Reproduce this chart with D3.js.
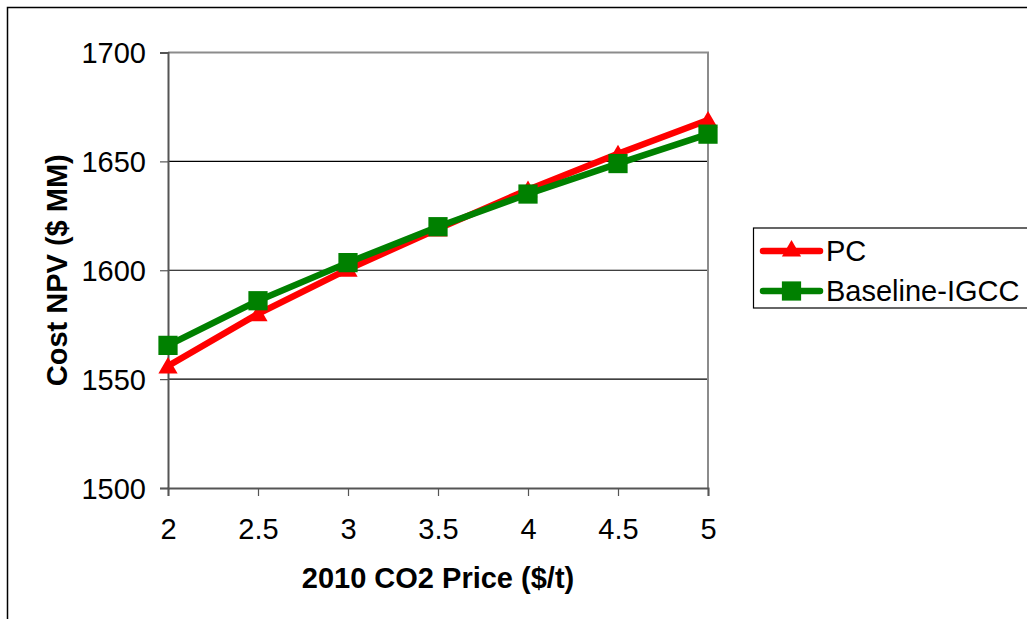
<!DOCTYPE html>
<html>
<head>
<meta charset="utf-8">
<script src="https://cdn.jsdelivr.net/npm/d3@7"></script>
<style>
html,body{margin:0;padding:0;background:#fff;}
svg{display:block;font-family:"Liberation Sans",Arial,sans-serif;}
</style>
</head>
<body>
<svg id="chart" width="1027" height="619"></svg>
<script>
const xValues = [2, 2.5, 3, 3.5, 4, 4.5, 5];
const pcValues = [1556, 1580, 1600.5, 1619, 1637, 1653.5, 1669];
const igccValues = [1565.5, 1586, 1603.5, 1620, 1635, 1649, 1662.5];
const seriesNames = ["PC", "Baseline-IGCC"];
const xTicks = [2, 2.5, 3, 3.5, 4, 4.5, 5];
const yTicks = [1500, 1550, 1600, 1650, 1700];
const xTitle = "2010 CO2 Price ($/t)";
const yTitle = "Cost NPV ($ MM)";

const svg = d3.select("#chart");
const W = 1027, H = 619;
const plot = {left: 168, top: 52.5, right: 708, bottom: 488};
const FS = 29;

// outer frame (extends past right/bottom edges)
svg.append("rect").attr("x", 7.5).attr("y", 7.5).attr("width", W + 10).attr("height", H + 10)
  .attr("fill", "#fff").attr("stroke", "#000").attr("stroke-width", 1.5);

const x = d3.scaleLinear().domain([2, 5]).range([plot.left, plot.right]);
const y = d3.scaleLinear().domain([1500, 1700]).range([plot.bottom, plot.top]);

// gridlines
svg.append("g").selectAll("line").data(yTicks.filter(t => t > 1500 && t < 1700)).join("line")
  .attr("x1", plot.left).attr("x2", plot.right)
  .attr("y1", d => y(d)).attr("y2", d => y(d))
  .attr("stroke", "#000").attr("stroke-width", 1.2);

// plot frame top/right
svg.append("path")
  .attr("d", `M${plot.left},${plot.top}H${plot.right}V${plot.bottom}`)
  .attr("fill", "none").attr("stroke", "#8c8c8c").attr("stroke-width", 2);

// axes
const yAxis = svg.append("g").attr("transform", `translate(${plot.left},0)`)
  .call(d3.axisLeft(y).tickValues(yTicks).tickSize(8).tickPadding(14).tickFormat(d3.format("d")));
const xAxis = svg.append("g").attr("transform", `translate(0,${plot.bottom})`)
  .call(d3.axisBottom(x).tickValues(xTicks).tickSize(8).tickPadding(22).tickFormat(d => String(d)));
[yAxis, xAxis].forEach(g => {
  g.select(".domain").attr("stroke", "#555").attr("stroke-width", 2);
  g.selectAll(".tick line").attr("stroke", "#555").attr("stroke-width", 1.2);
  g.selectAll(".tick text").attr("font-size", FS).attr("fill", "#000")
    .attr("font-family", '"Liberation Sans",Arial,sans-serif');
});
yAxis.selectAll(".tick text").attr("dy", "0.36em");

// titles
svg.append("text").attr("x", (plot.left + plot.right) / 2).attr("y", 588)
  .attr("text-anchor", "middle").attr("font-size", FS).attr("font-weight", "bold").text(xTitle);
svg.append("text").attr("transform", `translate(67,${(plot.top + plot.bottom) / 2}) rotate(-90)`)
  .attr("text-anchor", "middle").attr("font-size", FS).attr("font-weight", "bold").text(yTitle);

const colors = ["#ff0000", "#008000"];
const data = [pcValues, igccValues];
const line = d3.line().x((d, i) => x(xValues[i])).y(d => y(d));

const triangle = d3.symbol().type(d3.symbolTriangle).size(160);
const square = d3.symbol().type(d3.symbolSquare).size(370);

data.forEach((vals, si) => {
  svg.append("path").datum(vals).attr("d", line)
    .attr("fill", "none").attr("stroke", colors[si]).attr("stroke-width", 6.5)
    .attr("stroke-linejoin", "round");
  svg.append("g").selectAll("path").data(vals).join("path")
    .attr("transform", (d, i) => `translate(${x(xValues[i])},${y(d) + (si === 0 ? 2 : 0)})`)
    .attr("d", si === 0 ? triangle : square)
    .attr("fill", colors[si]);
});

// legend
const lg = svg.append("g");
lg.append("rect").attr("x", 753.5).attr("y", 228).attr("width", 300).attr("height", 80)
  .attr("fill", "#fff").attr("stroke", "#000").attr("stroke-width", 1.2);
seriesNames.forEach((name, i) => {
  const cy = 251 + i * 40;
  lg.append("line").attr("x1", 763).attr("x2", 820).attr("y1", cy).attr("y2", cy)
    .attr("stroke", colors[i]).attr("stroke-width", 6.5).attr("stroke-linecap", "round");
  lg.append("path").attr("transform", `translate(791.5,${cy})`)
    .attr("d", i === 0 ? triangle : square).attr("fill", colors[i]);
  lg.append("text").attr("x", 826).attr("y", cy).attr("dy", "0.36em")
    .attr("font-size", FS).attr("fill", "#000").text(name);
});
</script>
</body>
</html>
